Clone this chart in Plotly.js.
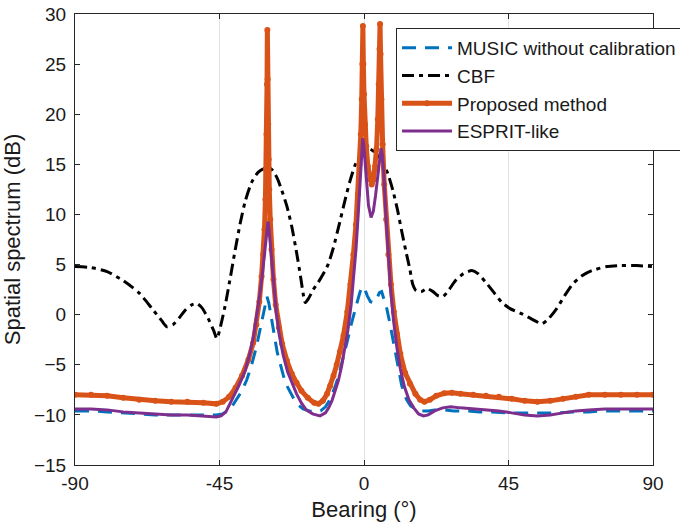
<!DOCTYPE html>
<html>
<head>
<meta charset="utf-8">
<script src="https://cdn.plot.ly/plotly-3.0.1.min.js"></script>
<style>html,body{margin:0;padding:0;background:#fff}#chart{width:680px;height:528px}</style>
</head>
<body>
<div id="chart"></div>
<script>
// ---- data ----
const seriesNames = ['MUSIC without calibration', 'CBF', 'Proposed method', 'ESPRIT-like'];
const xTicks = [-90, -45, 0, 45, 90];

const musicX = [-90,-85,-80,-75,-70,-65,-60,-55,-50,-46,-44,-42.5,-41,-39.5,-38,-36.5,-35,-33.5,-32.5,-31.5,-30.8,-30.2,-29.6,-29,-28,-27,-26,-25,-24,-23,-22,-20.5,-19,-17,-15,-13.5,-12,-11,-10,-9,-8,-7,-6,-5,-4,-3,-2,-1.2,-0.5,0.2,1,2,3,4,4.8,5.5,6.3,7.1,7.9,8.6,9.6,10.6,11.7,12.5,13.3,14.5,16,18,20,22,25,28,32,36,40,45,50,55,60,65,70,75,80,85,90];
const musicY = [-9.6,-9.6,-9.7,-9.8,-9.9,-10.0,-10.0,-10.0,-10.0,-10.0,-9.9,-9.6,-9.1,-8.4,-7.6,-6.5,-5.0,-3.2,-1.6,0.0,1.2,1.8,1.1,0.0,-2.2,-3.8,-5.0,-6.2,-7.1,-7.7,-8.3,-9.0,-9.4,-9.6,-9.7,-9.6,-9.2,-8.7,-8.0,-7.2,-6.2,-5.0,-3.7,-2.4,-1.0,0.3,1.4,2.3,2.8,2.6,1.9,1.3,1.2,1.6,2.2,2.3,1.5,0.6,-0.6,-1.8,-3.5,-5.5,-7.0,-7.9,-8.5,-9.1,-9.4,-9.6,-9.6,-9.5,-9.5,-9.6,-9.6,-9.7,-9.7,-9.8,-9.8,-9.8,-9.8,-9.7,-9.7,-9.6,-9.6,-9.6,-9.6];

const cbfX = [-90,-85,-80,-75,-72,-69.8,-66,-63,-61.4,-59.5,-57.5,-55.5,-53.5,-52,-50.5,-48.5,-46.8,-45.8,-44.7,-43.3,-41.8,-40.2,-38.5,-37,-35,-33,-31,-29.8,-28.5,-27,-25.6,-24,-22.5,-21,-19.8,-18.9,-18.3,-17.3,-15.8,-14.3,-12.8,-11.2,-9.6,-7.5,-6,-4.4,-2.8,-1.2,0.3,1.9,3.8,5.9,7.5,9,10.4,11.7,13,14.3,15.2,16.2,17.8,19.6,21.5,23,24.6,26.5,28.5,31,33.6,35.5,38,40.5,43,45.5,49,52,55.4,57.5,60,62.5,65.1,68,71,75.6,80,85,90];
const cbfY = [4.8,4.7,4.3,3.4,2.7,2.1,0.6,-0.6,-1.2,-1.0,-0.3,0.5,1.0,1.1,0.7,-0.4,-1.6,-2.4,-1.2,0.8,3.4,6.3,9.2,11.3,13.2,14.2,14.6,14.7,14.4,13.6,12.4,10.8,8.8,6.2,3.9,2.0,1.2,1.6,2.5,3.2,4.0,5.0,6.6,9.3,11.3,13.3,14.9,15.9,16.4,16.5,16.1,15.2,14.0,12.4,10.5,8.4,6.4,4.5,3.0,2.4,2.3,2.6,2.3,1.9,1.8,2.5,3.4,4.1,4.4,4.1,3.2,2.2,1.2,0.6,0.1,-0.4,-0.9,-0.4,0.6,1.9,3.1,3.9,4.4,4.8,4.9,4.9,4.8];

const propX = [-90,-85,-80,-75,-70,-65,-60,-55,-50,-46,-44,-42,-40,-38,-36,-34.5,-33.5,-32.6,-31.9,-31.4,-31,-30.7,-30.5,-30.35,-30.2,-30.1,-30.0,-29.85,-29.7,-29.5,-29.2,-28.8,-28.2,-27.5,-26.5,-25.5,-24,-22.5,-21,-19.5,-17.5,-15.5,-14.2,-12.8,-11.5,-10.5,-9.5,-8.5,-7.5,-6.4,-5.2,-4.2,-3.3,-2.5,-1.9,-1.4,-1.0,-0.7,-0.5,-0.35,-0.2,0.0,0.3,0.7,1.2,1.8,2.4,3.0,3.5,3.9,4.3,4.6,4.85,5.0,5.15,5.4,5.8,6.3,6.9,7.6,8.4,9.3,10.2,11.3,12.8,14.3,16,17.5,18.8,20.5,22.5,25,27.4,30,34,38,42,46,50,54,58,62,66,70,75,80,85,90];
const propY = [-8.0,-8.0,-8.1,-8.3,-8.5,-8.6,-8.7,-8.7,-8.8,-8.9,-8.7,-8.2,-7.3,-6.1,-4.5,-2.8,-1.0,1.3,3.8,6.0,8.5,11.5,14.5,18,23,28.4,23.5,19,15.5,12.5,9.5,6.5,3.5,1.0,-1.3,-2.9,-4.6,-5.9,-6.8,-7.6,-8.3,-8.8,-8.9,-8.6,-7.9,-7.1,-6.1,-5.0,-3.7,-2.1,0.3,3.0,6.0,9.0,12.0,15.0,18.0,21.5,25.0,28.8,25.0,22.0,19.0,16.8,14.8,13.5,13.0,13.5,14.8,16.5,19.5,23.0,26.5,29.0,26.0,21.5,17.0,13.0,9.5,6.0,3.0,0.3,-1.9,-3.9,-5.8,-6.9,-7.9,-8.5,-8.7,-8.5,-8.1,-7.85,-7.8,-7.9,-8.0,-8.1,-8.2,-8.4,-8.6,-8.7,-8.6,-8.4,-8.2,-8.0,-8.0,-8.0,-8.0,-8.0];

const espritX = [-90,-85,-80,-75,-70,-65,-60,-55,-50,-46,-44.5,-43,-41,-39,-37,-35.5,-34.3,-33.4,-32.5,-31.7,-31,-30.5,-30.1,-29.9,-29.6,-29.1,-28.6,-28.0,-27.3,-26.5,-25.2,-23.8,-22.5,-21,-19.5,-18,-16,-13.7,-12,-11,-10,-9,-8,-7,-6,-5,-4,-3.2,-2.5,-1.8,-1.2,-0.7,-0.4,-0.1,0.3,0.8,1.4,2.2,2.9,3.6,4.3,4.9,5.3,5.7,6.2,6.8,7.5,8.3,9.2,10.2,11.3,12.6,14,15.5,17,18.5,20,22,24.5,27,30,34,38,42,46,50,54,58,62,66,70,75,80,85,90];
const espritY = [-9.4,-9.4,-9.5,-9.7,-9.8,-9.9,-10.0,-10.0,-10.1,-10.2,-10.1,-9.7,-8.4,-7.1,-5.6,-3.8,-2.0,-0.2,1.9,3.9,5.9,7.8,9.0,9.3,8.6,6.8,4.7,2.4,0.2,-1.8,-4.0,-5.7,-6.8,-7.9,-8.8,-9.5,-9.9,-10.1,-9.8,-9.3,-8.6,-7.7,-6.6,-5.2,-3.5,-1.5,1.0,3.7,6.5,10.0,13.5,16.3,17.6,17.0,15.3,13.0,10.9,9.7,10.3,11.9,14.0,15.9,16.6,16.0,13.8,10.0,6.0,2.5,-0.6,-3.2,-5.4,-7.2,-8.5,-9.3,-9.9,-10.1,-10.0,-9.6,-9.3,-9.2,-9.3,-9.4,-9.5,-9.6,-9.8,-10.0,-10.1,-10.0,-9.8,-9.6,-9.5,-9.4,-9.4,-9.4,-9.4];

const colors = ['#0072BD', '#000000', '#D95319', '#7E2F8E'];

const traces = [
  {x: musicX, y: musicY, name: seriesNames[0], type: 'scatter', mode: 'lines',
   line: {color: colors[0], width: 3, dash: '14px,9px'}},
  {x: cbfX, y: cbfY, name: seriesNames[1], type: 'scatter', mode: 'lines',
   line: {color: colors[1], width: 3, dash: '12px,5px,4px,5px', shape: 'spline', smoothing: 0.6}},
  {x: propX, y: propY, name: seriesNames[2], type: 'scatter', mode: 'lines+markers',
   line: {color: colors[2], width: 5}, marker: {color: colors[2], size: 6}},
  {x: espritX, y: espritY, name: seriesNames[3], type: 'scatter', mode: 'lines',
   line: {color: colors[3], width: 3}}
];

const axisCommon = {
  showline: true, linecolor: '#262626', linewidth: 1, mirror: 'ticks',
  ticks: 'inside', ticklen: 5, tickcolor: '#262626', tickwidth: 1,
  zeroline: false, tickfont: {size: 19, color: '#1a1a1a'}
};

const layout = {
  width: 680, height: 528,
  margin: {l: 75, r: 27, t: 14, b: 63, autoexpand: false},
  paper_bgcolor: '#ffffff', plot_bgcolor: '#ffffff',
  font: {family: '"Liberation Sans", Arial, sans-serif', color: '#1a1a1a'},
  showlegend: true,
  xaxis: Object.assign({}, axisCommon, {
    range: [-90, 90], tickvals: xTicks, ticktext: xTicks.map(String),
    showgrid: true, gridcolor: '#e4e4e4', gridwidth: 1,
    ticklabelstandoff: 1,
    title: {text: 'Bearing (°)', font: {size: 22}, standoff: 8}
  }),
  yaxis: Object.assign({}, axisCommon, {
    range: [-15, 30], dtick: 5, showgrid: false,
    ticklabelstandoff: 4,
    title: {text: 'Spatial spectrum (dB)', font: {size: 22}, standoff: 9}
  }),
  legend: {
    x: 0.5554, y: 0.969, xanchor: 'left', yanchor: 'top',
    bgcolor: '#ffffff', bordercolor: '#262626', borderwidth: 1,
    font: {size: 19, color: '#1a1a1a'}, itemwidth: 50, tracegroupgap: 0
  }
};

Plotly.newPlot('chart', traces, layout, {displayModeBar: false, staticPlot: true});
</script>
</body>
</html>
